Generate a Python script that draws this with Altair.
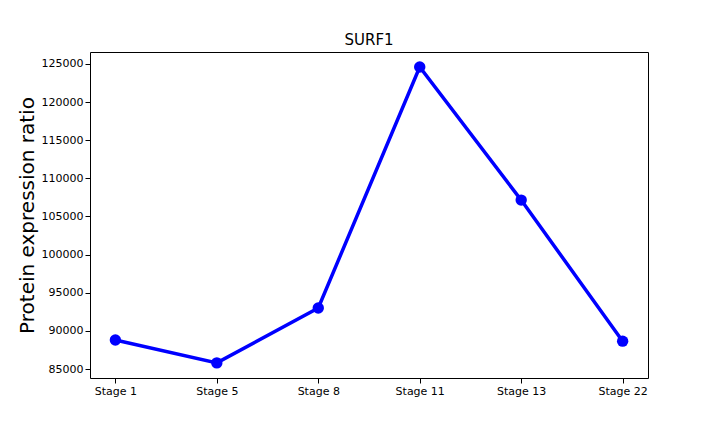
import altair as alt
import pandas as pd

stages = ["Stage 1", "Stage 5", "Stage 8", "Stage 11", "Stage 13", "Stage 22"]
values = [88800, 85800, 93000, 124600, 107150, 88650]

df = pd.DataFrame({"stage": stages, "value": values})

base = alt.Chart(df).encode(
    x=alt.X("stage:O", sort=stages, title=None,
            scale=alt.Scale(type="point", padding=0.25),
            axis=alt.Axis(labelAngle=0, labelFontSize=11, labelColor="black",
                          tickColor="black", domain=False, grid=False, labelFont="DejaVu Sans")),
    y=alt.Y("value:Q", title="Protein expression ratio",
            scale=alt.Scale(domain=[83820, 126570], nice=False, zero=False),
            axis=alt.Axis(values=list(range(85000, 125001, 5000)), format="d", labelFontSize=11,
                          labelColor="black", tickColor="black", domain=False, grid=False,
                          titleFontSize=20, titleFontWeight="normal", titleColor="black",
                          labelFont="DejaVu Sans", titleFont="DejaVu Sans")),
)

chart = (base.mark_line(color="#0000ff", strokeWidth=3.5)
         + base.mark_circle(color="#0000ff", size=130, opacity=1)).properties(
    width=558, height=326,
    title=alt.TitleParams("SURF1", fontSize=15, fontWeight="normal", font="DejaVu Sans",
                          color="black", offset=4),
    autosize=alt.AutoSizeParams(type="none"),
    padding={"left": 82, "top": 44, "right": 64, "bottom": 46},
).configure(background="white").configure_view(stroke="black", strokeWidth=1)

chart.save("out.html", embed_options={"renderer": "svg", "actions": False})
